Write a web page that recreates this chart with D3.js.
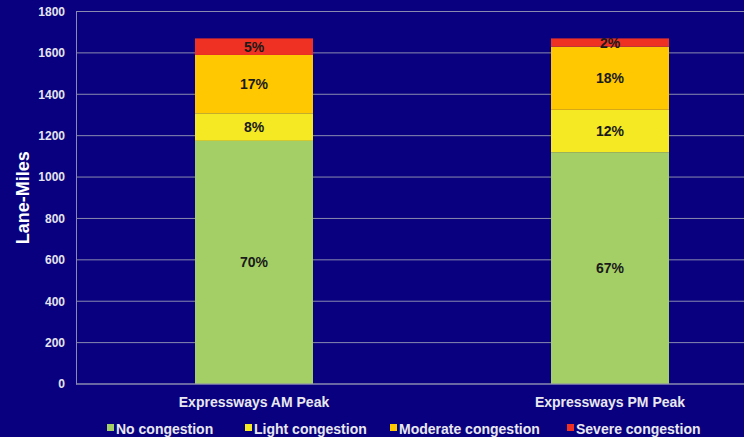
<!DOCTYPE html>
<html>
<head>
<meta charset="utf-8">
<script src="https://cdn.jsdelivr.net/npm/d3@7"></script>
<style>
  html, body { margin: 0; padding: 0; background: #08007e; overflow: hidden; }
  svg { display: block; font-family: "Liberation Sans", Arial, sans-serif; font-weight: bold; }
</style>
</head>
<body>
<script>
'use strict';

const categories = ["Expressways AM Peak", "Expressways PM Peak"]
const seriesNames = ["No congestion", "Light congestion", "Moderate congestion", "Severe congestion"]
const noCongestion = [1175, 1120]
const lightCongestion = [133, 205]
const moderateCongestion = [282, 305]
const severeCongestion = [80, 40]
const pctLabels = [["70%", "67%"], ["8%", "12%"], ["17%", "18%"], ["5%", "2%"]]
const yTicks = [0, 200, 400, 600, 800, 1000, 1200, 1400, 1600, 1800]
const colors = ["#a4cf66", "#f4e922", "#ffc800", "#ef3124"]

const width = 744, height = 437
const svg = d3.select("body").append("svg")
    .attr("width", width)
    .attr("height", height)

const x = d3.scaleBand()
    .domain(categories)
    .range([76, 788])

const y = d3.scaleLinear()
    .domain([0, 1800])
    .range([384, 11.5])

const rows = categories.map((c, i) => ({
    cat: c,
    "No congestion": noCongestion[i],
    "Light congestion": lightCongestion[i],
    "Moderate congestion": moderateCongestion[i],
    "Severe congestion": severeCongestion[i]
}))
const stacked = d3.stack().keys(seriesNames)(rows)

// grid
svg.append("g")
    .selectAll("line")
    .data(yTicks)
    .enter().append("line")
    .attr("x1", 76).attr("x2", width)
    .attr("y1", d => y(d)).attr("y2", d => y(d))
    .attr("stroke", "#8a8ab0")
    .attr("stroke-width", 1)

// y axis
const yAxis = svg.append("g")
    .attr("transform", "translate(76,0)")
    .call(d3.axisLeft(y).tickValues(yTicks).tickFormat(d3.format("d")).tickSize(0).tickPadding(11))
yAxis.select(".domain").attr("stroke", "#8a8ab0")
yAxis.selectAll("text")
    .attr("fill", "#e4e4ee")
    .style("font-size", "12px")
    .style("font-weight", "bold")
    .style("font-family", "Liberation Sans, Arial, sans-serif")

svg.append("text")
    .attr("transform", "translate(29," + y(900) + ") rotate(-90)")
    .attr("text-anchor", "middle")
    .attr("fill", "#ffffff")
    .style("font-size", "18px")
    .text("Lane-Miles")

// bars
const barW = 118
const layers = svg.selectAll("g.layer")
    .data(stacked)
    .enter().append("g")
    .attr("class", "layer")
    .attr("fill", (d, i) => colors[i])

layers.selectAll("rect")
    .data(d => d)
    .enter().append("rect")
    .attr("x", d => x(d.data.cat) + x.bandwidth() / 2 - barW / 2)
    .attr("width", barW)
    .attr("y", d => y(d[1]))
    .attr("height", d => y(d[0]) - y(d[1]))

layers.selectAll("text")
    .data((d, i) => d.map((p, j) => ({ p: p, label: pctLabels[i][j] })))
    .enter().append("text")
    .attr("x", d => x(d.p.data.cat) + x.bandwidth() / 2)
    .attr("y", d => (y(d.p[0]) + y(d.p[1])) / 2 + 5)
    .attr("text-anchor", "middle")
    .attr("fill", "#1a1a1a")
    .style("font-size", "14px")
    .text(d => d.label)

// x axis base
svg.append("line")
    .attr("x1", 76).attr("x2", width)
    .attr("y1", y(0)).attr("y2", y(0))
    .attr("stroke", "#8a8ab0")

svg.append("g")
    .selectAll("text")
    .data(categories)
    .enter().append("text")
    .attr("x", d => x(d) + x.bandwidth() / 2)
    .attr("y", 407)
    .attr("text-anchor", "middle")
    .attr("fill", "#e8e8f0")
    .style("font-size", "14px")
    .text(d => d)

// legend
const legendX = [107, 245, 390, 567]
const legend = svg.append("g")
    .selectAll("g")
    .data(seriesNames)
    .enter().append("g")
    .attr("transform", (d, i) => "translate(" + legendX[i] + ",434)")
legend.append("rect")
    .attr("x", 0).attr("y", -10)
    .attr("width", 7).attr("height", 7)
    .attr("fill", (d, i) => colors[i])
legend.append("text")
    .attr("x", 9)
    .attr("y", 0)
    .attr("fill", "#e8e8f0")
    .style("font-size", "14px")
    .text(d => d)
</script>
</body>
</html>
